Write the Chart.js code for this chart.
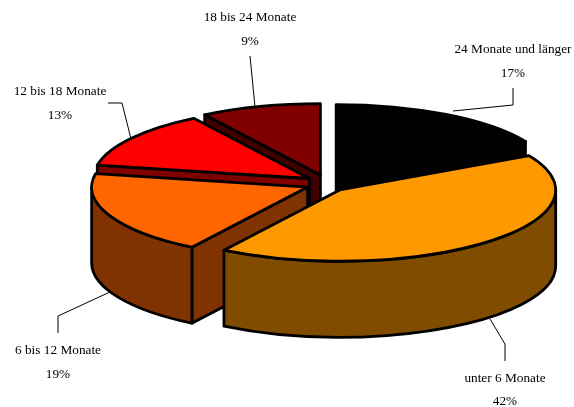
<!DOCTYPE html>
<html><head><meta charset="utf-8">
<style>html,body{margin:0;padding:0;background:#fff}canvas{display:block}</style>
<script src="https://cdn.jsdelivr.net/npm/chart.js@4"></script></head>
<body><canvas id="c" width="574" height="407"></canvas>
<script>
const categories = ["24 Monate und länger","unter 6 Monate","6 bis 12 Monate","12 bis 18 Monate","18 bis 24 Monate"];
const shares = [17,42,19,13,9];
const topColors = ["#000000","#FF9900","#FF6600","#FF0000","#800000"];
const wallColors = ["#000000","#804C00","#803300","#800000","#400000"];
const drawOrder = [0,4,3,2,1];
// label layout: text centre x, first/second line centre y, leader polyline
const labelLayout = [
 {x:513,y:[49.5,73.5],line:[[513,88],[513,105],[453,111]]},
 {x:505,y:[378.5,401.5],line:[[505,361],[505,344],[490,319]]},
 {x:58,y:[350.5,374.5],line:[[58,333],[58,316],[110,292]]},
 {x:60,y:[91.5,115.5],line:[[108,103],[122,103],[131,139]]},
 {x:250,y:[17.5,41.5],line:[[250,56],[255,107]]}
];
const TILT=0.33, EXPLODE_TILT=0.445, DEPTH=76, STROKE=2.8;
const pie3d={id:'pie3d',
 beforeDatasetDraw(chart,args){
  const ctx=chart.ctx, els=args.meta.data;
  ctx.save();ctx.lineJoin='round';ctx.lineWidth=STROKE;ctx.strokeStyle='#000';
  for(const i of drawOrder){
   const p=els[i].getProps(['x','y','startAngle','endAngle','outerRadius'],true);
   const off=els[i].options.offset, mid=(p.startAngle+p.endAngle)/2;
   const cx=p.x+Math.cos(mid)*off, cy=p.y+Math.sin(mid)*off*EXPLODE_TILT;
   const R=p.outerRadius, ry=R*TILT;
   const pt=a=>[cx+Math.cos(a)*R,cy+Math.sin(a)*ry];
   const paint=(col)=>{ctx.fillStyle=col;ctx.fill();ctx.stroke();};
   const radial=a=>{
    const q=pt(a);ctx.beginPath();ctx.moveTo(cx,cy);ctx.lineTo(q[0],q[1]);
    ctx.lineTo(q[0],q[1]+DEPTH);ctx.lineTo(cx,cy+DEPTH);ctx.closePath();paint(wallColors[i]);
   };
   // only the radial faces turned towards the viewer
   if(Math.cos(p.startAngle)<-1e-6) radial(p.startAngle);
   if(Math.cos(p.endAngle)>1e-6) radial(p.endAngle);
   const a0=Math.max(p.startAngle,0),a1=Math.min(p.endAngle,Math.PI);
   if(a1>a0){
    ctx.beginPath();ctx.ellipse(cx,cy,R,ry,0,a0,a1);
    ctx.ellipse(cx,cy+DEPTH,R,ry,0,a1,a0,true);ctx.closePath();paint(wallColors[i]);
   }
   ctx.beginPath();ctx.moveTo(cx,cy);ctx.ellipse(cx,cy,R,ry,0,p.startAngle,p.endAngle);ctx.closePath();paint(topColors[i]);
  }
  ctx.restore();
  return false;
 },
 afterDraw(chart){
  const ctx=chart.ctx;ctx.save();
  ctx.fillStyle='#000';ctx.strokeStyle='#000';ctx.lineWidth=1;
  ctx.font='13.3px "Liberation Serif"';ctx.textAlign='center';ctx.textBaseline='middle';
  categories.forEach((name,i)=>{
   const l=labelLayout[i];
   ctx.fillText(name,l.x,l.y[0]);
   ctx.fillText(shares[i]+'%',l.x,l.y[1]);
   ctx.beginPath();l.line.forEach((q,j)=>j?ctx.lineTo(q[0],q[1]):ctx.moveTo(q[0],q[1]));ctx.stroke();
  });
  ctx.restore();
 }
};
new Chart(document.getElementById('c'),{
 type:'pie',
 data:{labels:categories,datasets:[{data:shares,backgroundColor:topColors,borderColor:'#000',borderWidth:2,offset:20,radius:216,clip:false}]},
 options:{responsive:false,animation:false,layout:{padding:{left:78,bottom:40}},
  plugins:{legend:{display:false},tooltip:{enabled:false}}},
 plugins:[pie3d]
});
</script></body></html>
